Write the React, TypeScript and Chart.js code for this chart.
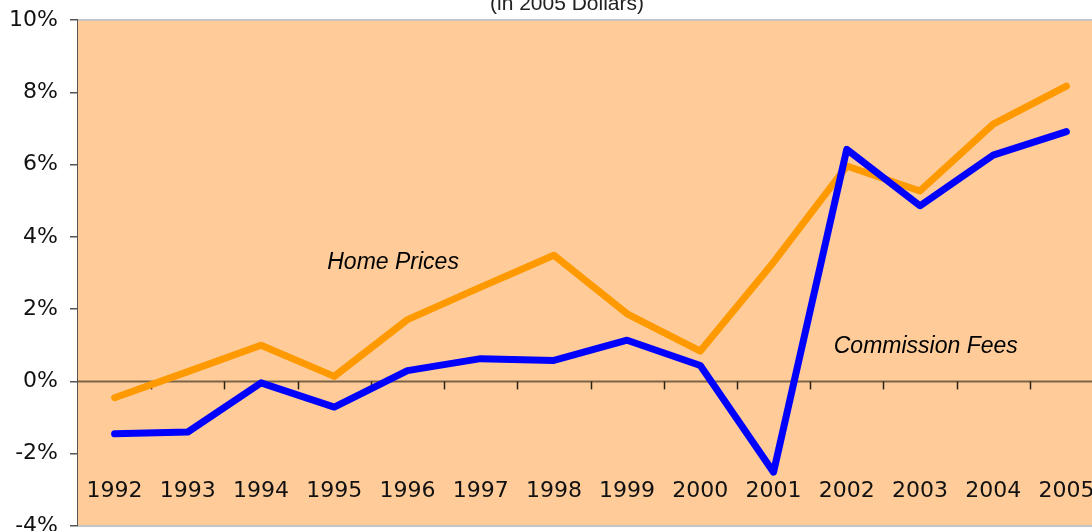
import React, { useEffect, useRef } from "react";
import { Chart, registerables } from "chart.js";

Chart.register(...registerables);

const years = ["1992", "1993", "1994", "1995", "1996", "1997", "1998", "1999", "2000", "2001", "2002", "2003", "2004", "2005"];
const homePrices = [-0.45, 0.27, 1.0, 0.14, 1.71, 2.61, 3.49, 1.87, 0.84, 3.3, 5.96, 5.27, 7.12, 8.17];
const commissionFees = [-1.45, -1.4, -0.04, -0.71, 0.3, 0.63, 0.58, 1.14, 0.44, -2.51, 6.42, 4.86, 6.26, 6.91];
const yTicks = [-4, -2, 0, 2, 4, 6, 8, 10];
const subtitle = "(in 2005 Dollars)";
const annotations = [
  { text: "Home Prices", year: "1995", value: 3.1, dx: -7 },
  { text: "Commission Fees", year: "2002", value: 0.8, dx: -13 },
];

const decorPlugin = {
  id: "decor",
  beforeDatasetsDraw(chart: any) {
    const { ctx, chartArea: a, scales } = chart;
    const x = scales.x;
    const y = scales.y;
    ctx.save();
    ctx.fillStyle = "#FFCC99";
    ctx.fillRect(a.left, a.top, a.right - a.left, a.bottom - a.top);
    ctx.strokeStyle = "#c4c4c4";
    ctx.lineWidth = 2;
    ctx.beginPath();
    ctx.moveTo(a.left, a.top);
    ctx.lineTo(a.right, a.top);
    ctx.lineTo(a.right, a.bottom);
    ctx.lineTo(a.left, a.bottom);
    ctx.stroke();
    const y0 = y.getPixelForValue(0);
    ctx.strokeStyle = "#7b6448";
    ctx.lineWidth = 2;
    ctx.beginPath();
    ctx.moveTo(a.left, y0);
    ctx.lineTo(a.right, y0);
    ctx.stroke();
    ctx.lineWidth = 1.5;
    ctx.strokeStyle = "#2a2418";
    const n = years.length;
    const w = (a.right - a.left) / n;
    for (let i = 1; i < n; i++) {
      const px = Math.round(x.getPixelForValue(i) - w / 2) + 0.5;
      ctx.beginPath();
      ctx.moveTo(px, y0);
      ctx.lineTo(px, y0 + 8);
      ctx.stroke();
    }
    ctx.fillStyle = "#111";
    ctx.font = "22px 'DejaVu Sans'";
    ctx.textAlign = "center";
    ctx.textBaseline = "alphabetic";
    years.forEach((yr, i) => {
      ctx.fillText(yr, x.getPixelForValue(i), 497);
    });
    ctx.font = "italic 23px 'Liberation Sans'";
    ctx.fillStyle = "#000";
    ctx.textAlign = "left";
    annotations.forEach((an) => {
      const idx = years.indexOf(an.year);
      ctx.fillText(an.text, x.getPixelForValue(idx) + an.dx, y.getPixelForValue(an.value));
    });
    ctx.font = "21px 'Liberation Sans'";
    ctx.fillStyle = "#222";
    ctx.textAlign = "center";
    ctx.fillText(subtitle, 567, 10);
    ctx.restore();
  },
};

export default function App() {
  const ref = useRef<HTMLCanvasElement>(null);
  useEffect(() => {
    if (!ref.current) return;
    const chart = new Chart(ref.current, {
      type: "line",
      data: {
        labels: years,
        datasets: [
          {
            label: "Home Prices",
            data: homePrices,
            borderColor: "#FF9900",
            borderWidth: 7,
            pointRadius: 0,
            borderCapStyle: "round",
            borderJoinStyle: "round",
            tension: 0,
            order: 1,
          },
          {
            label: "Commission Fees",
            data: commissionFees,
            borderColor: "#0000FF",
            borderWidth: 7,
            pointRadius: 0,
            borderCapStyle: "round",
            borderJoinStyle: "round",
            tension: 0,
            order: 0,
          },
        ],
      },
      options: {
        responsive: false,
        animation: false,
        devicePixelRatio: 1,
        layout: { padding: { top: 20, bottom: 5, left: 0, right: 7 } },
        plugins: { legend: { display: false }, tooltip: { enabled: false }, title: { display: false } },
        scales: {
          x: { type: "category", offset: true, display: false },
          y: {
            min: -4,
            max: 10,
            afterBuildTicks: (scale: any) => {
              scale.ticks = yTicks.map((v) => ({ value: v }));
            },
            afterFit: (scale: any) => {
              scale.width = 78;
              scale.paddingTop = 0;
              scale.paddingBottom = 0;
            },
            ticks: {
              color: "#111",
              font: { family: "'DejaVu Sans'", size: 22 },
              padding: 12,
              callback: (v: any) => `${v}%`,
            },
            grid: { drawOnChartArea: false, drawTicks: true, tickLength: 8, color: "#555", lineWidth: 1.5 },
            border: { display: true, color: "#555", width: 2 },
          },
        },
      },
      plugins: [decorPlugin],
    });
    return () => chart.destroy();
  }, []);
  return (
    <div style={{ position: "absolute", left: 0, top: 0, width: 1092, height: 531, overflow: "hidden", background: "#fff" }}>
      <canvas ref={ref} width={1110} height={531} style={{ display: "block" }} />
    </div>
  );
}
